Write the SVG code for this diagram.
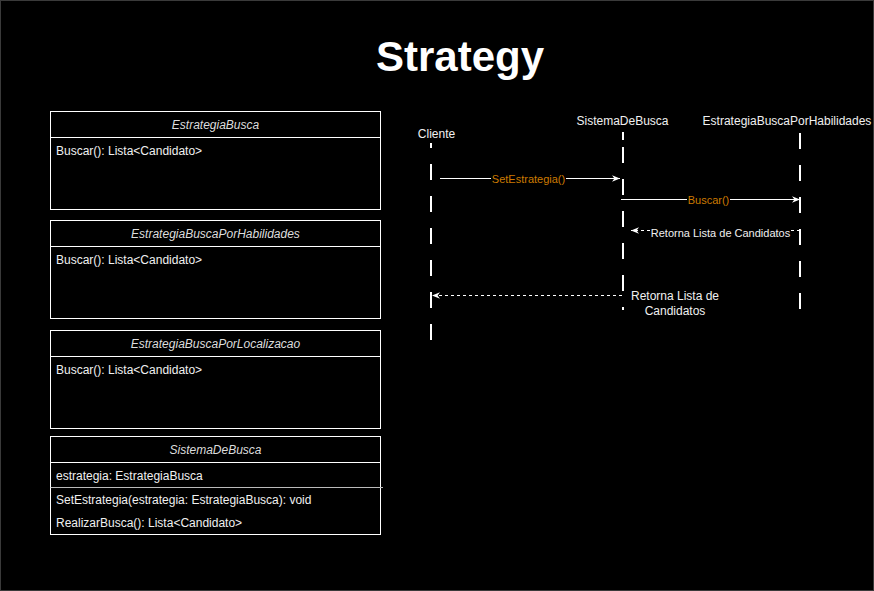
<svg xmlns="http://www.w3.org/2000/svg" width="874" height="591" viewBox="0 0 874 591">
<defs>
<style>
text{font-family:"Liberation Sans",Arial,sans-serif;font-size:12px;fill:#f0f0f0}
.hdr{font-style:italic;text-anchor:middle;fill:#dddddd}
.box{fill:#000;stroke:#fff;stroke-width:1}
.sep{stroke:#fff;stroke-width:1}
.life{stroke:#fff;stroke-width:2;stroke-dasharray:16 16;fill:none}
.msg{stroke:#fff;stroke-width:1;fill:none}
.ret{stroke:#fff;stroke-width:1;stroke-dasharray:3 3;fill:none}
.lbl{font-size:11px;fill:#cc7a00;text-anchor:middle}
.bg{fill:#000}
</style>
<marker id="arr" viewBox="0 0 10 10" refX="10" refY="5" markerWidth="8" markerHeight="8" orient="auto" markerUnits="userSpaceOnUse">
<path d="M0,1 L10,5 L0,9 L3,5 z" fill="#fff"/>
</marker>
</defs>
<rect x="0" y="0" width="874" height="591" fill="#000"/>
<rect x="0.5" y="0.5" width="873" height="590" fill="none" stroke="#3a3a3a"/>
<text x="460" y="71" style="font-size:42px;font-weight:bold;text-anchor:middle;fill:#fff">Strategy</text>

<g id="EstrategiaBusca">
<rect class="box" x="50.5" y="111.5" width="330" height="98"/>
<line class="sep" x1="50.5" y1="137.5" x2="380.5" y2="137.5"/>
<text class="hdr" x="215.5" y="129">EstrategiaBusca</text>
<text x="56" y="155">Buscar(): Lista&lt;Candidato&gt;</text>
</g>
<g id="EstrategiaBuscaPorHabilidades">
<rect class="box" x="50.5" y="220.5" width="330" height="98"/>
<line class="sep" x1="50.5" y1="246.5" x2="380.5" y2="246.5"/>
<text class="hdr" x="215.5" y="238">EstrategiaBuscaPorHabilidades</text>
<text x="56" y="264">Buscar(): Lista&lt;Candidato&gt;</text>
</g>
<g id="EstrategiaBuscaPorLocalizacao">
<rect class="box" x="50.5" y="330.5" width="330" height="98"/>
<line class="sep" x1="50.5" y1="356.5" x2="380.5" y2="356.5"/>
<text class="hdr" x="215.5" y="348">EstrategiaBuscaPorLocalizacao</text>
<text x="56" y="374">Buscar(): Lista&lt;Candidato&gt;</text>
</g>
<g id="SistemaDeBuscaClass">
<rect class="box" x="50.5" y="436.5" width="330" height="98"/>
<line class="sep" x1="50.5" y1="462.5" x2="380.5" y2="462.5"/>
<line x1="50.5" y1="487.5" x2="383" y2="487.5" stroke="#bbb" stroke-width="1"/>
<text class="hdr" x="215.5" y="454">SistemaDeBusca</text>
<text x="56" y="480">estrategia: EstrategiaBusca</text>
<text x="56" y="504">SetEstrategia(estrategia: EstrategiaBusca): void</text>
<text x="56" y="527">RealizarBusca(): Lista&lt;Candidato&gt;</text>
</g>

<g id="Cliente">
<text x="436.5" y="138" style="text-anchor:middle">Cliente</text>
<line class="life" x1="431" y1="143" x2="431" y2="340" stroke-dashoffset="11"/>
</g>
<g id="SistemaDeBusca">
<text x="622.5" y="125" style="text-anchor:middle">SistemaDeBusca</text>
<line x1="623" y1="132" x2="623" y2="140" stroke="#fff" stroke-width="2"/>
<line class="life" x1="623" y1="147" x2="623" y2="310"/>
</g>
<g id="EstrategiaBuscaPorHabilidadesLife">
<text x="787" y="125" style="text-anchor:middle">EstrategiaBuscaPorHabilidades</text>
<line class="life" x1="800" y1="133" x2="800" y2="310"/>
</g>

<g id="connectors">
<line class="msg" x1="440" y1="178.5" x2="620" y2="178.5" marker-end="url(#arr)"/>
<rect class="bg" x="491" y="173" width="75" height="13"/>
<text class="lbl" x="528.5" y="183">SetEstrategia()</text>

<line class="msg" x1="621" y1="199.5" x2="800" y2="199.5" marker-end="url(#arr)"/>
<rect class="bg" x="687" y="194" width="43" height="13"/>
<text class="lbl" x="708.5" y="204">Buscar()</text>

<line class="ret" x1="800" y1="230.5" x2="631" y2="230.5" marker-end="url(#arr)"/>
<rect class="bg" x="650" y="225" width="141" height="13"/>
<text x="720.5" y="236.5" style="font-size:11px;text-anchor:middle">Retorna Lista de Candidatos</text>

<line class="ret" x1="622" y1="295.5" x2="432" y2="295.5" marker-end="url(#arr)"/>
<text x="675" y="300" style="text-anchor:middle">Retorna Lista de</text>
<text x="675" y="314.5" style="text-anchor:middle">Candidatos</text>
</g>
</svg>
